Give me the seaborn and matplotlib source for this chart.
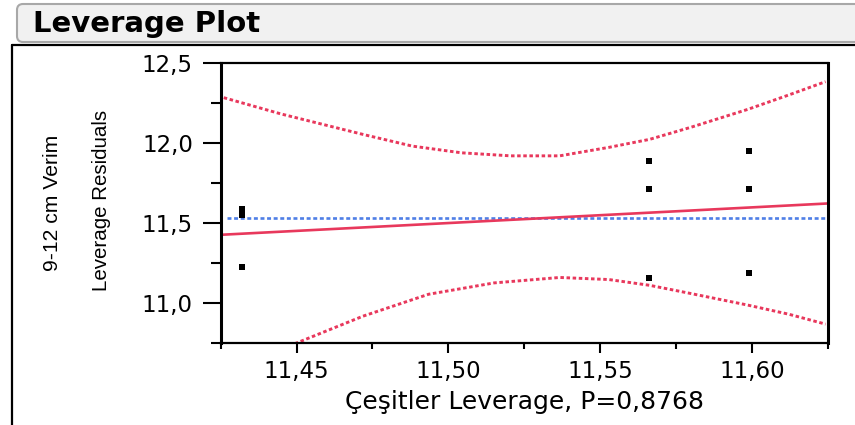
import numpy as np
import pandas as pd
import matplotlib
matplotlib.use("Agg")
import matplotlib.pyplot as plt
import seaborn as sns
from matplotlib.patches import FancyBboxPatch
from matplotlib.lines import Line2D
from matplotlib.transforms import IdentityTransform
from matplotlib.ticker import MultipleLocator, FuncFormatter

# leverage points (Çeşitler leverage vs 9-12 cm Verim leverage residuals)
x_lev = [11.432, 11.432, 11.432, 11.566, 11.566, 11.566, 11.599, 11.599, 11.599]
y_res = [11.588, 11.552, 11.224, 11.890, 11.715, 11.156, 11.949, 11.715, 11.191]

# horizontal mean line and fitted line
mean_y = 11.533
fit_x = [11.425, 11.625]
fit_y = [11.427, 11.623]

# confidence curves
upper_x = [11.426, 11.4449, 11.4719, 11.4881, 11.5043, 11.5205, 11.5367,
           11.5529, 11.5663, 11.5798, 11.5987, 11.6122, 11.6243]
upper_y = [12.285, 12.183, 12.055, 11.982, 11.940, 11.921, 11.921,
           11.974, 12.024, 12.099, 12.212, 12.302, 12.385]
lower_x = [11.425, 11.45, 11.4719, 11.4935, 11.5151, 11.5367, 11.5529,
           11.5663, 11.5798, 11.5987, 11.6122, 11.6243]
lower_y = [10.565, 10.75, 10.918, 11.055, 11.126, 11.160, 11.147,
           11.111, 11.060, 10.987, 10.930, 10.868]

red = "#e8385c"
blue = "#4f7fe6"

sns.set_style("white")
plt.rcParams['font.family'] = ['DejaVu Sans']
plt.rcParams['text.color'] = 'black'
plt.rcParams['xtick.color'] = 'black'
plt.rcParams['ytick.color'] = 'black'
plt.rcParams['axes.labelcolor'] = 'black'

W, H = 855, 425
fig = plt.figure(figsize=(W / 100, H / 100), dpi=100)

# title bar
fig.add_artist(FancyBboxPatch((17, H - 42), 860, 38,
                              boxstyle="round,pad=0,rounding_size=6",
                              transform=IdentityTransform(),
                              facecolor="#f1f1f1", edgecolor="#a8a8a8", lw=1.5))
fig.text(33 / W, 1 - 24 / H, "Leverage Plot", fontsize=21, fontweight="bold",
         ha="left", va="center", color="black")

# outer frame
fig.add_artist(Line2D([12 / W, 1], [1 - 45 / H, 1 - 45 / H],
                      transform=fig.transFigure, color="black", lw=1.6))
fig.add_artist(Line2D([12 / W, 12 / W], [0, 1 - 45 / H],
                      transform=fig.transFigure, color="black", lw=1.6))

ax = fig.add_axes([220.7 / W, 1 - 343 / H, (827.7 - 220.7) / W, (343 - 63.3) / H])

sns.lineplot(x=upper_x, y=upper_y, ax=ax, color=red, lw=2.1, sort=False,
             estimator=None, dashes=False, linestyle=(0, (1.2, 0.9)))
sns.lineplot(x=lower_x, y=lower_y, ax=ax, color=red, lw=2.1, sort=False,
             estimator=None, dashes=False, linestyle=(0, (1.2, 0.9)))
ax.axhline(mean_y, color=blue, lw=1.9, linestyle=(0, (1.5, 1.0)), xmin=0.01)
sns.lineplot(x=fit_x, y=fit_y, ax=ax, color=red, lw=1.9, sort=False, estimator=None)
sns.scatterplot(x=x_lev, y=y_res, ax=ax, color="black", marker="s", s=16,
                linewidth=0, zorder=5)

ax.set_xlim(11.425, 11.625)
ax.set_ylim(10.75, 12.5)

ax.xaxis.set_major_locator(MultipleLocator(0.05))
ax.xaxis.set_minor_locator(MultipleLocator(0.025))
ax.yaxis.set_major_locator(MultipleLocator(0.5))
ax.yaxis.set_minor_locator(MultipleLocator(0.25))
ax.xaxis.set_major_formatter(FuncFormatter(lambda v, p: f"{v:.2f}".replace(".", ",")))
ax.yaxis.set_major_formatter(FuncFormatter(lambda v, p: f"{v:.1f}".replace(".", ",")))

ax.tick_params(axis="x", which="major", direction="out", length=7, width=1.5,
               pad=5, labelsize=16.5, bottom=True)
ax.tick_params(axis="x", which="minor", direction="out", length=4.3, width=1.5,
               bottom=True)
ax.tick_params(axis="y", which="major", direction="out", length=13, width=1.5,
               pad=7, labelsize=16.5, left=True)
ax.tick_params(axis="y", which="minor", direction="out", length=7, width=1.5,
               left=True)

for s in ax.spines.values():
    s.set_visible(True)
    s.set_color("black")
    s.set_linewidth(1.6)
ax.spines["left"].set_linewidth(2.2)
ax.spines["right"].set_linewidth(2.2)

ax.set_xlabel("")
ax.set_ylabel("")
fig.text(524 / W, 1 - 402 / H, "Çeşitler Leverage, P=0,8768", fontsize=18,
         ha="center", va="center")
fig.text(53 / W, 1 - 203 / H, "9-12 cm Verim", fontsize=15.2, rotation=90,
         ha="center", va="center", family=["Liberation Sans", "DejaVu Sans"])
fig.text(101 / W, 1 - 200 / H, "Leverage Residuals", fontsize=14.8, rotation=90,
         ha="center", va="center", family=["Liberation Sans", "DejaVu Sans"])

fig.savefig("out.png", dpi=100)
